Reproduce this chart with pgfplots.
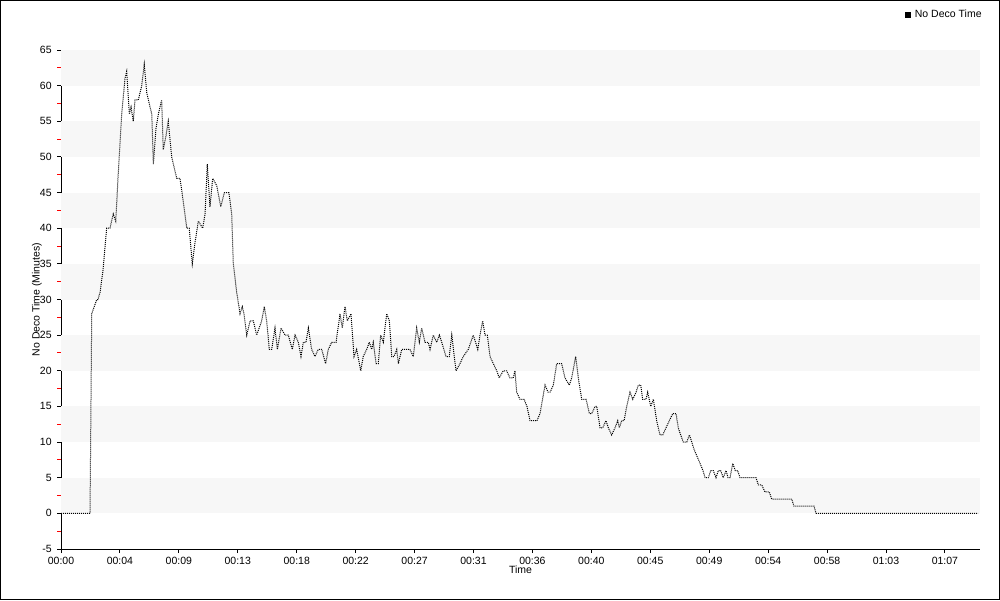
\documentclass[border=0pt]{standalone}
\usepackage{fontspec}
\setmainfont{Liberation Sans}
\usepackage{pgfplots}
\pgfplotsset{compat=1.18}
\definecolor{band}{HTML}{F7F7F7}
\newcommand{\chartfont}{\fontsize{5.25pt}{6.3pt}\selectfont}
\begin{document}
\begin{tikzpicture}[x=1pt,y=1pt]
\path[use as bounding box] (0,0) rectangle (500,300);
\draw[black, line width=0.5pt] (0.25,0.25) rectangle (499.75,299.75);
\begin{axis}[
  at={(30.5pt,25.5pt)}, anchor=south west,
  scale only axis, width=459.5pt, height=249.5pt,
  xmin=0, xmax=69.66, ymin=-5, ymax=65,
  axis x line*=bottom, axis y line*=left,
  axis line style={-, black, line width=0.5pt},
  xtick={0,4.4667,8.9333,13.4,17.8667,22.3333,26.8,31.2667,35.7333,40.2,44.6667,49.1333,53.6,58.0667,62.5333,67},
  xticklabels={00:00,00:04,00:09,00:13,00:18,00:22,00:27,00:31,00:36,00:40,00:45,00:49,00:54,00:58,01:03,01:07},
  ytick={-5,0,5,10,15,20,25,30,35,40,45,50,55,60,65},
  minor y tick num=1,
  tick align=outside,
  major tick length=2pt, minor tick length=1.8pt,
  every major tick/.append style={draw=black, line width=0.5pt},
  every minor tick/.append style={draw=red, line width=0.5pt},
  xtick pos=bottom, ytick pos=left,
  /pgf/number format/assume math mode=true,
  tick label style={font=\chartfont},
  xticklabel style={inner sep=0pt, yshift=-2pt},
  yticklabel style={inner sep=0pt, xshift=-2.5pt},
  xlabel={Time}, ylabel={No Deco Time (Minutes)},
  every axis x label/.style={at={(axis description cs:0.5,-0.041)}, anchor=center, font=\chartfont},
  every axis y label/.style={at={(axis description cs:-0.0261,0.5)}, anchor=center, rotate=90, font=\chartfont},
  legend style={draw=none, fill=none, at={(1,1)}, anchor=east, xshift=3pt, yshift=17.5pt, font=\chartfont, inner sep=0pt},
  legend image code/.code={\fill[black, solid, draw=none] (0.8pt,-1.6pt) rectangle (4pt,1.6pt);},
  clip=false,
]
\fill[band] (axis cs:0,0) rectangle (axis cs:69.66,5);
\fill[band] (axis cs:0,10) rectangle (axis cs:69.66,15);
\fill[band] (axis cs:0,20) rectangle (axis cs:69.66,25);
\fill[band] (axis cs:0,30) rectangle (axis cs:69.66,35);
\fill[band] (axis cs:0,40) rectangle (axis cs:69.66,45);
\fill[band] (axis cs:0,50) rectangle (axis cs:69.66,55);
\fill[band] (axis cs:0,60) rectangle (axis cs:69.66,65);
\addplot[black, line width=0.5pt, dash pattern=on 0.5pt off 0.5pt] coordinates {
(0.00,0) (2.20,0) (2.33,28) (2.71,30) (2.80,30) (2.96,31) (3.18,34) (3.46,40) (3.71,40)
(3.96,42) (4.15,41) (4.32,47) (4.60,56) (4.85,61) (4.98,62) (5.18,56) (5.31,57) (5.48,55)
(5.61,58) (5.86,58) (6.12,60) (6.31,63) (6.50,59) (6.75,57) (6.88,56) (7.00,49) (7.20,54)
(7.38,56) (7.63,58) (7.75,51) (7.96,53) (8.13,55) (8.39,50) (8.77,47) (9.02,47) (9.25,44)
(9.53,40) (9.72,40) (9.95,35) (10.16,38) (10.41,41) (10.74,40) (10.92,42) (11.09,49)
(11.29,43) (11.50,47) (11.80,46) (12.11,43) (12.38,45) (12.73,45) (12.94,42) (13.06,35)
(13.19,33) (13.32,31) (13.57,28) (13.74,29) (13.87,28) (14.08,25) (14.33,27) (14.58,27)
(14.83,25) (15.21,27) (15.41,29) (15.59,27) (15.79,23) (15.97,23) (16.22,26) (16.40,23)
(16.68,26) (16.98,25) (17.23,25) (17.53,23) (17.74,25) (17.99,24) (18.19,22) (18.37,24)
(18.57,24) (18.75,26) (19.00,23) (19.25,22) (19.50,23) (19.76,23) (20.06,21) (20.26,23)
(20.52,24) (20.85,24) (21.15,28) (21.32,26) (21.53,29) (21.70,27) (21.98,28) (22.21,22)
(22.41,23) (22.72,20) (22.91,22) (23.17,23) (23.37,24) (23.55,23) (23.67,24) (23.88,21)
(24.05,21) (24.23,25) (24.43,24) (24.69,28) (24.89,27) (25.07,22) (25.24,22) (25.45,23)
(25.57,21) (25.83,23) (26.08,23) (26.45,23) (26.70,22) (26.96,26) (27.16,24) (27.34,26)
(27.59,24) (27.84,24) (27.97,23) (28.22,25) (28.48,24) (28.68,25) (28.86,24) (29.18,22)
(29.43,22) (29.62,25) (29.94,20) (30.24,21) (30.49,22) (30.87,23) (31.25,25) (31.59,23)
(31.76,25) (31.96,27) (32.14,25) (32.31,25) (32.52,22) (32.77,21) (33.03,20) (33.22,19)
(33.52,20) (33.78,20) (34.03,19) (34.28,19) (34.41,20) (34.54,17) (34.79,16) (35.10,16)
(35.32,15) (35.55,13) (36.08,13) (36.31,14) (36.69,18) (36.92,17) (37.07,17) (37.32,18)
(37.57,21) (37.95,21) (38.20,19) (38.53,18) (38.71,19) (39.01,22) (39.21,19) (39.47,16)
(39.80,16) (40.05,14) (40.23,14) (40.48,15) (40.61,15) (40.86,12) (41.06,12) (41.31,13)
(41.49,12) (41.74,11) (41.99,12) (42.20,13) (42.32,12) (42.50,13) (42.68,13) (42.88,15)
(43.13,17) (43.34,16) (43.59,17) (43.76,18) (43.94,18) (44.09,16) (44.34,16) (44.47,17)
(44.70,15) (44.90,16) (45.15,13) (45.40,11) (45.61,11) (45.86,12) (46.11,13) (46.37,14)
(46.62,14) (46.79,12) (46.97,11) (47.17,10) (47.43,10) (47.63,11) (47.81,10) (47.98,9)
(48.21,8) (48.44,7) (48.66,6) (48.82,5) (49.07,5) (49.25,6) (49.44,6) (49.65,5) (49.82,6)
(50.00,6) (50.20,5) (50.41,6) (50.56,5) (50.71,5) (50.92,7) (51.11,6) (51.29,6) (51.47,5)
(52.68,5) (52.86,4) (53.11,4) (53.36,3) (53.69,3) (53.87,2) (55.39,2) (55.56,1) (57.08,1)
(57.23,0) (69.51,0)
};
\addlegendentry{No Deco Time}
\end{axis}
\end{tikzpicture}
\end{document}
